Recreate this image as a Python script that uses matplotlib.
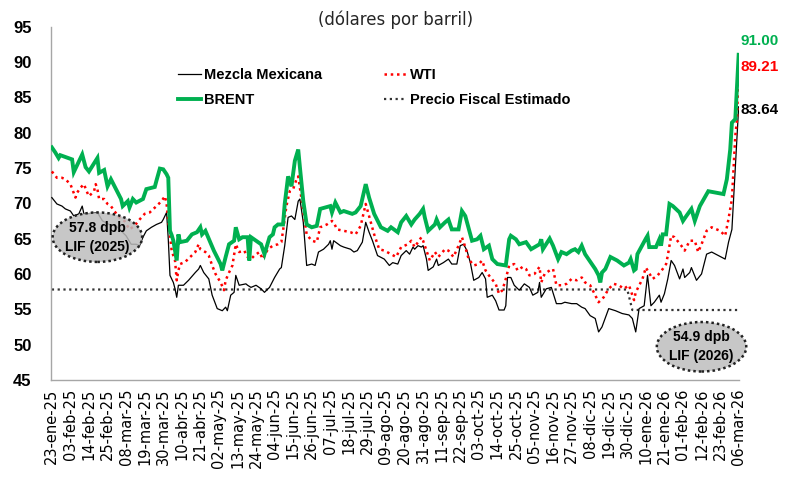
import numpy as np
import matplotlib
matplotlib.use('Agg')
import matplotlib.pyplot as plt
from matplotlib.lines import Line2D
from matplotlib.patches import Ellipse

plt.rcParams['font.family'] = ['Liberation Sans', 'DejaVu Sans']

# eje x: dias transcurridos desde el 23-ene-25
etiquetas_x = ['23-ene-25', '03-feb-25', '14-feb-25', '25-feb-25', '08-mar-25', '19-mar-25',
               '30-mar-25', '10-abr-25', '21-abr-25', '02-may-25', '13-may-25', '24-may-25',
               '04-jun-25', '15-jun-25', '26-jun-25', '07-jul-25', '18-jul-25', '29-jul-25',
               '09-ago-25', '20-ago-25', '31-ago-25', '11-sep-25', '22-sep-25', '03-oct-25',
               '14-oct-25', '25-oct-25', '05-nov-25', '16-nov-25', '27-nov-25', '08-dic-25',
               '19-dic-25', '30-dic-25', '10-ene-26', '21-ene-26', '01-feb-26', '12-feb-26',
               '23-feb-26', '06-mar-26']

brent_dias = [0, 2, 4, 5, 12, 13, 18, 20, 22, 27, 28, 31, 33, 35, 41, 42, 45, 46, 48, 50,
              54, 56, 61, 62, 64, 66, 68, 69, 70, 71, 72, 74, 75, 76, 80, 83, 86, 88, 89, 91,
              96, 100, 101, 103, 105, 108, 109, 111, 113, 116, 117, 118, 121, 124, 126, 129,
              131, 132, 134, 137, 138, 140, 142, 144, 146, 147, 149, 151, 154, 157, 159, 165,
              166, 168, 171, 173, 178, 180, 183, 186, 188, 191, 195, 199, 201, 205, 207, 210,
              213, 215, 218, 220, 221, 223, 227, 228, 230, 233, 235, 237, 241, 243, 245, 249,
              252, 254, 256, 259, 261, 264, 269, 271, 272, 275, 277, 281, 284, 289, 290, 291,
              295, 297, 300, 302, 305, 308, 310, 312, 314, 316, 318, 322, 324, 325, 326, 328,
              331, 335, 339, 342, 343, 345, 346, 347, 352, 353, 354, 358, 360, 361, 362, 364,
              366, 368, 372, 374, 376, 379, 381, 384, 389, 398, 400, 402, 403, 405, 407]
brent = [77.9, 77.2, 76.4, 76.8, 76.2, 74.4, 76.9, 75.1, 74.5, 76.4, 74.3, 74.7, 72.4, 73.4,
         70.6, 69.6, 70.3, 69.4, 70.6, 70.1, 70.6, 72.0, 72.3, 73.2, 74.9, 74.8, 74.1, 73.6,
         66.1, 65.5, 64.7, 61.9, 65.6, 64.5, 64.7, 65.6, 65.9, 66.6, 65.6, 66.1, 63.3, 61.4,
         60.5, 62.4, 64.2, 64.7, 66.6, 64.9, 65.2, 65.2, 61.9, 65.2, 64.7, 64.2, 62.8, 65.2,
         65.6, 66.6, 67.0, 67.0, 69.9, 73.8, 72.4, 76.0, 77.6, 75.1, 70.3, 67.0, 66.6, 66.8,
         69.2, 69.6, 68.7, 70.1, 68.7, 68.9, 68.5, 68.7, 69.6, 72.7, 70.8, 68.5, 66.6, 66.1,
         66.6, 65.9, 67.3, 68.2, 67.0, 67.7, 68.5, 69.2, 68.0, 66.1, 67.0, 67.7, 66.6, 67.3,
         67.7, 66.3, 66.3, 68.9, 68.2, 64.7, 64.9, 65.4, 63.5, 64.0, 62.1, 61.4, 61.2, 64.9,
         65.4, 64.9, 64.2, 64.5, 63.5, 64.2, 64.9, 63.5, 65.0, 64.0, 62.1, 63.1, 62.8, 63.3,
         63.5, 63.1, 64.0, 62.8, 62.1, 60.7, 59.8, 58.8, 60.2, 60.7, 62.4, 61.9, 61.2, 61.6,
         62.1, 60.5, 60.7, 62.8, 65.0, 65.4, 63.8, 63.8, 64.9, 64.0, 65.6, 65.6, 69.9, 69.6,
         68.7, 67.5, 68.2, 69.2, 67.5, 69.6, 71.7, 71.3, 73.4, 77.6, 81.4, 81.9, 91.00]

wti_dias = [0, 3, 6, 8, 11, 14, 15, 17, 19, 21, 22, 25, 26, 27, 28, 31, 33, 35, 37, 40, 43,
            46, 49, 52, 55, 58, 62, 65, 67, 68, 69, 70, 71, 73, 74, 75, 76, 79, 82, 85, 87,
            88, 91, 93, 95, 97, 100, 102, 103, 105, 107, 109, 111, 114, 116, 118, 120, 123,
            125, 128, 131, 134, 136, 137, 139, 141, 143, 145, 146, 147, 149, 151, 154, 157,
            159, 163, 166, 167, 169, 173, 177, 180, 183, 186, 188, 191, 194, 197, 201, 204,
            207, 211, 213, 215, 217, 219, 220, 222, 224, 227, 229, 233, 235, 238, 241, 243,
            245, 247, 250, 253, 255, 257, 259, 263, 265, 267, 269, 271, 274, 276, 279, 281,
            283, 286, 289, 290, 292, 295, 297, 299, 302, 305, 308, 311, 314, 316, 319, 322,
            324, 327, 330, 333, 336, 339, 342, 345, 346, 350, 352, 356, 359, 362, 364, 365,
            367, 369, 373, 375, 378, 381, 383, 385, 388, 391, 396, 399, 401, 403, 405, 406,
            407]
wti = [74.5, 73.6, 73.6, 73.4, 72.7, 70.8, 71.5, 72.2, 72.7, 71.5, 71.0, 71.7, 72.7, 72.0,
       70.6, 70.6, 69.9, 69.6, 68.9, 68.0, 67.5, 66.3, 66.8, 67.7, 68.5, 68.7, 69.6, 70.3,
       71.0, 69.9, 67.5, 65.6, 63.3, 61.9, 59.1, 60.5, 61.4, 61.7, 62.4, 63.1, 64.2, 63.5,
       63.1, 62.6, 61.2, 60.0, 58.8, 57.7, 59.1, 60.2, 61.2, 64.2, 63.1, 63.3, 62.4, 62.1,
       62.6, 63.1, 62.1, 63.5, 64.0, 64.2, 64.5, 66.1, 69.6, 71.7, 72.0, 73.4, 73.8, 72.2,
       68.9, 65.6, 64.7, 64.5, 66.6, 67.0, 67.5, 67.3, 66.3, 66.1, 65.9, 65.6, 66.8, 69.9,
       68.2, 65.6, 63.5, 63.3, 62.8, 62.4, 63.8, 64.2, 64.7, 63.8, 64.5, 65.2, 64.7, 63.3,
       61.9, 63.1, 62.4, 63.5, 63.3, 62.4, 64.0, 65.2, 63.8, 62.1, 61.2, 61.4, 61.9, 60.5,
       59.8, 58.6, 57.2, 57.7, 59.3, 61.2, 61.4, 60.5, 61.0, 60.7, 59.8, 60.0, 61.0, 58.8,
       60.0, 60.5, 60.7, 58.4, 58.4, 58.6, 59.3, 59.1, 59.5, 58.8, 58.4, 57.0, 56.0, 56.7,
       57.9, 58.6, 58.4, 57.9, 58.4, 56.3, 57.4, 59.3, 60.9, 59.3, 59.8, 60.7, 61.4, 62.6,
       65.4, 65.2, 64.0, 63.3, 64.7, 64.7, 63.1, 64.2, 66.1, 66.6, 66.1, 65.4, 67.8, 70.6,
       79.5, 81.8, 89.21]

mezcla_dias = [0, 3, 6, 8, 11, 13, 16, 18, 19, 21, 27, 30, 34, 38, 41, 44, 47, 50, 52, 54,
               56, 59, 62, 65, 66, 68, 69, 70, 72, 73, 74, 75, 78, 81, 85, 87, 88, 90, 93,
               95, 98, 101, 103, 104, 106, 108, 109, 111, 115, 116, 118, 121, 124, 126, 129,
               132, 135, 136, 138, 140, 142, 144, 146, 147, 149, 151, 154, 156, 158, 161,
               164, 165, 166, 167, 171, 173, 177, 179, 181, 184, 186, 188, 190, 193, 197,
               200, 202, 205, 207, 210, 212, 214, 215, 217, 219, 220, 222, 223, 226, 228,
               229, 232, 235, 237, 240, 242, 244, 246, 248, 250, 253, 255, 257, 258, 261,
               263, 265, 268, 269, 270, 272, 274, 277, 280, 283, 285, 288, 289, 290, 293,
               296, 299, 302, 304, 308, 311, 314, 316, 319, 322, 324, 326, 330, 334, 338,
               342, 344, 346, 348, 351, 353, 355, 357, 360, 361, 363, 365, 367, 369, 372,
               374, 375, 378, 379, 382, 385, 388, 391, 399, 401, 403, 404, 407]
mezcla = [70.8, 69.9, 69.6, 69.2, 68.9, 68.2, 68.5, 69.6, 68.5, 68.5, 68.7, 67.5, 67.0, 66.8,
          66.1, 65.4, 64.2, 64.2, 64.0, 65.2, 66.1, 66.6, 67.0, 67.3, 67.7, 68.7, 64.9, 59.8,
          58.8, 57.9, 56.7, 58.4, 58.4, 59.1, 60.2, 60.7, 61.2, 60.2, 59.3, 57.0, 55.1, 54.8,
          55.3, 54.8, 57.0, 57.4, 59.8, 58.4, 58.6, 58.4, 58.1, 58.4, 57.9, 57.4, 58.1, 59.5,
          60.7, 60.9, 64.0, 68.0, 68.2, 67.7, 70.3, 70.6, 67.3, 61.2, 61.4, 61.2, 63.1, 63.5,
          64.2, 64.7, 63.5, 64.7, 64.0, 63.8, 63.5, 63.1, 63.3, 64.5, 67.3, 65.9, 64.7, 62.6,
          62.1, 61.2, 61.6, 61.4, 62.6, 63.3, 62.8, 63.8, 63.5, 64.0, 63.8, 64.0, 62.1, 60.5,
          61.0, 62.1, 61.2, 61.6, 62.1, 61.4, 61.4, 64.0, 64.2, 63.3, 61.6, 59.1, 59.5, 60.2,
          59.3, 56.7, 57.0, 56.2, 54.9, 54.9, 55.5, 59.5, 59.5, 58.4, 57.7, 58.6, 58.1, 57.0,
          57.4, 58.8, 56.7, 57.9, 58.1, 55.8, 55.8, 56.0, 55.8, 55.8, 55.3, 55.1, 54.1, 53.7,
          51.8, 52.5, 55.1, 54.8, 54.4, 54.2, 53.7, 51.8, 55.1, 55.5, 59.8, 55.5, 56.0, 57.0,
          56.0, 57.2, 59.3, 61.9, 61.2, 59.3, 60.7, 59.5, 60.2, 60.9, 59.1, 60.0, 62.8, 63.1,
          62.1, 64.5, 66.3, 70.6, 83.64]

# precio fiscal estimado (LIF 2025 y LIF 2026)
fiscal_dias = [0, 341, 344, 407]
fiscal = [57.8, 57.8, 54.9, 54.9]

verde = '#00B050'
rojo = '#FF0000'

fig = plt.figure(figsize=(7.87, 4.84), dpi=100)
ax = fig.add_axes([51 / 787, 1 - 380 / 484, 688 / 787, 353.5 / 484])

ax.plot(fiscal_dias, fiscal, color='#333333', lw=1.6, ls=(0, (1, 1.6)), zorder=2)
ax.plot(mezcla_dias, mezcla, color='black', lw=0.9, zorder=3)
ax.plot(wti_dias, wti, color=rojo, lw=1.8, ls=(0, (1, 1.5)), zorder=3)
ax.plot(brent_dias, brent, color=verde, lw=2.8, zorder=4, solid_joinstyle='miter')

ax.set_xlim(-0.5, 407.2)
ax.set_ylim(45, 95)
ax.set_yticks(np.arange(45, 96, 5))
ax.set_xticks(np.arange(0, 408, 11))
ax.set_xticklabels(etiquetas_x, rotation=90, fontsize=10.5, family='DejaVu Sans', color='black')
for lbl in ax.get_yticklabels():
    lbl.set_fontsize(12)
    lbl.set_fontweight('bold')
ax.tick_params(length=0)
ax.tick_params(axis='x', pad=6)
ax.tick_params(axis='y', pad=14)
for s in ['top', 'right']:
    ax.spines[s].set_visible(False)
for s in ['left', 'bottom']:
    ax.spines[s].set_color('#a6a6a6')
    ax.spines[s].set_linewidth(1)

fig.text(396 / 787, 1 - 20 / 484, '(dólares por barril)', ha='center', va='center',
         fontsize=12, family='DejaVu Sans', color='#262626')

# valores finales
ax.annotate('91.00', (brent_dias[-1], brent[-1]), xytext=(1, 10), textcoords='offset points',
            color=verde, fontsize=11, fontweight='bold', va='center', ha='left')
ax.annotate('89.21', (wti_dias[-1], wti[-1]), xytext=(1, 0), textcoords='offset points',
            color=rojo, fontsize=11, fontweight='bold', va='center', ha='left')
ax.annotate('83.64', (mezcla_dias[-1], mezcla[-1]), xytext=(1, -2), textcoords='offset points',
            color='black', fontsize=11, fontweight='bold', va='center', ha='left')

# elipses con el precio fiscal
for (cx, cy, txt) in [(27, 65.2, '57.8 dpb\nLIF (2025)'), (385, 49.7, '54.9 dpb\nLIF (2026)')]:
    e = Ellipse((cx, cy), 53, 7.0, facecolor=(0.74, 0.74, 0.74, 0.85), edgecolor='#222222',
                lw=1.8, ls=(0, (1, 1.2)), zorder=6, clip_on=False)
    ax.add_patch(e)
    ax.text(cx, cy, txt, ha='center', va='center', fontsize=10, fontweight='bold',
            linespacing=1.45, zorder=7)

handles = [Line2D([], [], color='black', lw=0.9),
           Line2D([], [], color=verde, lw=2.8),
           Line2D([], [], color=rojo, lw=1.8, ls=(0, (1, 1.5))),
           Line2D([], [], color='#333333', lw=1.6, ls=(0, (1, 1.6)))]
labels = ['Mezcla Mexicana', 'BRENT', 'WTI', 'Precio Fiscal Estimado']
fig.legend(handles, labels, ncol=2, loc='upper left', frameon=False,
           bbox_to_anchor=(178 / 787, 1 - 68 / 484), borderpad=0, borderaxespad=0,
           handlelength=1.6, handletextpad=0.2, columnspacing=4.2, labelspacing=0.75,
           prop={'weight': 'bold', 'size': 10.5})

fig.savefig('out.png', dpi=100)
